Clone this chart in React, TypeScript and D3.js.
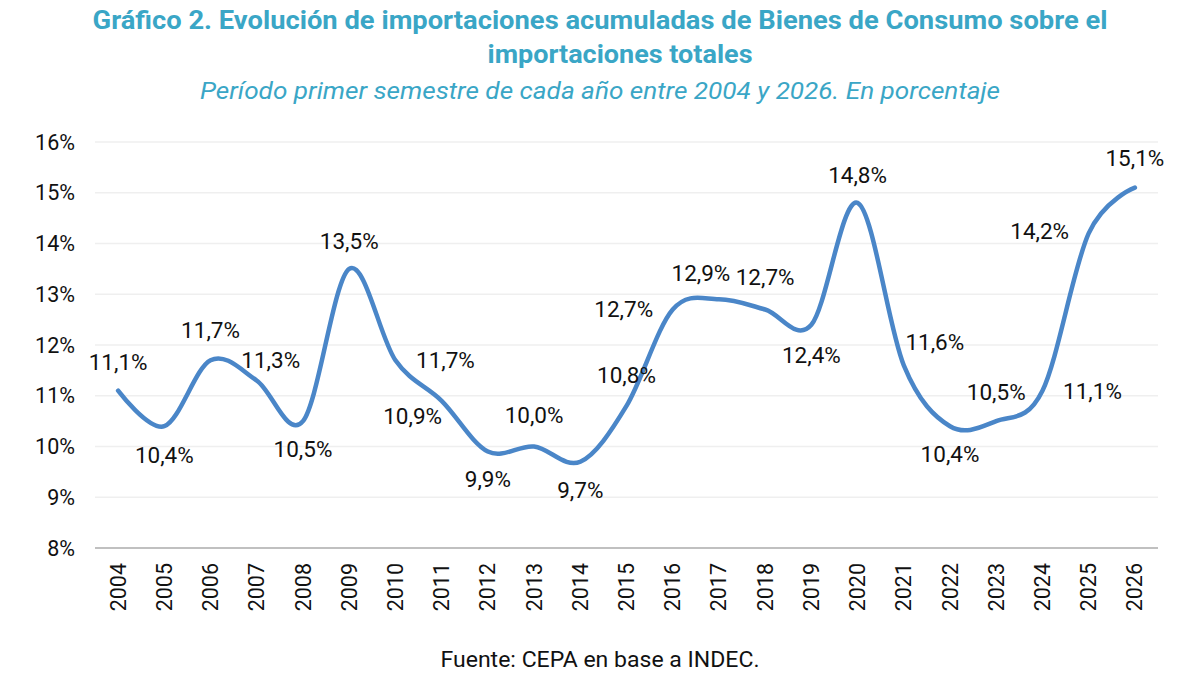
import React from "react";
import * as d3 from "d3";

const years = ["2004","2005","2006","2007","2008","2009","2010","2011","2012","2013","2014","2015","2016","2017","2018","2019","2020","2021","2022","2023","2024","2025","2026"];
const values = [11.1,10.4,11.7,11.3,10.5,13.5,11.7,10.9,9.9,10.0,9.7,10.8,12.7,12.9,12.7,12.4,14.8,11.6,10.4,10.5,11.1,14.2,15.1];
// label placement relative to point: [dx, dy] of label baseline center
const labelOffsets: [number, number][] = [
  [0,-21],[0,37],[0,-22],[14,-13],[0,36],[0,-20],[50,8],[-29,23],[0,35],[0,-24],[0,36],[0,-23],
  [-49,8],[-18,-18],[0,-24],[0,38],[0,-20],[31,-15],[0,36],[0,-21],[50,8],[-49,6],[0,-22]
];
const yTicks = [8,9,10,11,12,13,14,15,16];

const W = 1200, H = 693;
const M = { left: 95, right: 1158, top: 142, bottom: 548 };
const TEAL = "#3AA6C6";
const LINE = "#4A86C8";
const FONT = "Roboto, 'Noto Sans', sans-serif";

export default function App() {
  const x = d3.scaleBand<string>().domain(years).range([M.left, M.right]);
  const y = d3.scaleLinear().domain([8, 16]).range([M.bottom, M.top]);
  const cx = (i: number) => (x(years[i]) as number) + x.bandwidth() / 2;
  const line = d3.line<number>()
    .x((_, i) => cx(i))
    .y((v) => y(v))
    .curve(d3.curveCardinal.tension(0));
  const fmt = (v: number) => v.toFixed(1).replace(".", ",") + "%";

  return (
    <div style={{ position: "absolute", left: 0, top: 0 }}>
      <svg width={W} height={H} style={{ display: "block", background: "#fff" }} fontFamily={FONT}>
        <text x={600} y={29} textAnchor="middle" fill={TEAL} fontWeight={700} fontSize={26}
          textLength={1015} lengthAdjust="spacingAndGlyphs">
          Gráfico 2. Evolución de importaciones acumuladas de Bienes de Consumo sobre el
        </text>
        <text x={620} y={63} textAnchor="middle" fill={TEAL} fontWeight={700} fontSize={26}
          textLength={265} lengthAdjust="spacingAndGlyphs">
          importaciones totales
        </text>
        <text x={600} y={99} textAnchor="middle" fill={TEAL} fontStyle="italic" fontSize={23}
          textLength={800} lengthAdjust="spacingAndGlyphs">
          Período primer semestre de cada año entre 2004 y 2026. En porcentaje
        </text>

        {yTicks.map((t) => (
          <g key={t}>
            {t !== 8 && (
              <line x1={M.left} x2={M.right} y1={y(t)} y2={y(t)} stroke="#EFEFEF" strokeWidth={1.5} />
            )}
            <text x={75} y={y(t)} dy="0.35em" textAnchor="end" fontSize={21.5} fill="#111">
              {t}%
            </text>
          </g>
        ))}
        <line x1={M.left} x2={M.right} y1={y(8)} y2={y(8)} stroke="#ABABAB" strokeWidth={1.5} />

        {years.map((yr, i) => (
          <text key={yr} transform={`translate(${cx(i)},563) rotate(-90)`} dy="0.35em"
            textAnchor="end" fontSize={21.5} fill="#111">
            {yr}
          </text>
        ))}

        <path d={line(values) || ""} fill="none" stroke={LINE} strokeWidth={4.5} strokeLinecap="round" strokeLinejoin="round" />

        {values.map((v, i) => (
          <text key={i} x={cx(i) + labelOffsets[i][0]} y={y(v) + labelOffsets[i][1]}
            textAnchor="middle" fontSize={22.5} fill="#111">
            {fmt(v)}
          </text>
        ))}

        <text x={600} y={667} textAnchor="middle" fontSize={22.5} fill="#111"
          textLength={319} lengthAdjust="spacingAndGlyphs">
          Fuente: CEPA en base a INDEC.
        </text>
      </svg>
    </div>
  );
}
